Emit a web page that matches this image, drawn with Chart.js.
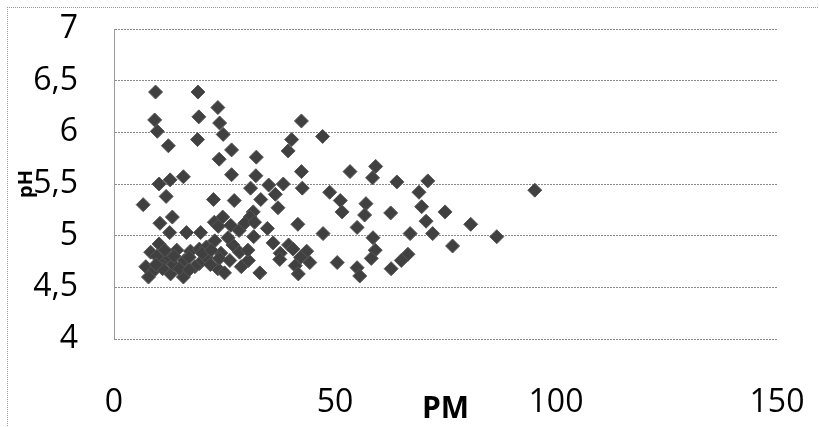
<!DOCTYPE html>
<html>
<head>
<meta charset="utf-8">
<script src="https://cdn.jsdelivr.net/npm/chart.js@4.4.1/dist/chart.umd.min.js"></script>
<style>
  html, body { margin: 0; padding: 0; background: #fff; overflow: hidden; }
  #wrap { position: relative; width: 819px; height: 427px; }
  #frame { position: absolute; left: 7px; top: 7px; width: 840px; height: 440px;
           border-top: 1px dotted #9a9a9a; border-left: 1px dotted #9a9a9a; pointer-events: none; }
  canvas { position: absolute; left: 0; top: 0; }
</style>
</head>
<body>
<div id="wrap">
  <canvas id="c" width="819" height="427"></canvas>
  <div id="frame"></div>
</div>
<script>
// Series values
const pmValues = [
  9.4, 19.0, 23.5, 9.2, 19.2, 9.8, 23.9, 24.7, 12.3, 18.9, 26.6, 23.8, 32.2, 26.6, 15.7, 12.7, 10.2, 32.1,
  42.4, 40.2, 39.4, 47.2, 42.4, 53.4, 59.2, 58.5,
  30.9, 35.0, 38.3, 42.6, 64.0, 71.0, 69.0, 95.2, 48.8, 51.2, 51.6, 57.0, 56.7, 62.6, 69.6, 74.9, 70.6,
  80.7, 72.1, 86.6, 76.6, 67.0, 66.5, 65.0, 62.7, 55.0, 58.6, 59.1, 58.2, 50.5, 55.0, 55.6,
  6.6, 11.8, 22.5, 27.2, 33.2, 36.5, 37.1, 31.5, 30.8, 13.2, 10.4, 12.6, 16.4, 19.6, 22.7, 24.6, 23.6,
  26.4, 28.3, 29.6, 31.8, 34.7, 41.6, 47.3, 31.6,
  36.0, 39.5, 40.5, 37.6, 43.6, 37.5, 42.2, 44.3, 41.0, 41.7, 33.0,
  10.2, 8.3, 7.2, 9.0, 7.8, 10.7, 12.2, 14.2, 12.8, 15.7, 15.9, 13.4, 17.3, 17.0, 19.3, 19.3, 20.9,
  20.9, 22.8, 23.5, 24.2, 23.8, 26.2, 26.9, 25.0, 28.4, 28.8, 25.8, 11.0, 9.7, 18.3, 30.4, 30.3,
  11.5, 14.8, 17.0, 21.8, 13.6, 20.0, 22.0, 9.5
];
const phValues = [
  6.39, 6.39, 6.24, 6.12, 6.15, 6.01, 6.09, 5.98, 5.87, 5.93, 5.83, 5.74, 5.76, 5.59, 5.57, 5.54, 5.50, 5.58,
  6.11, 5.93, 5.82, 5.96, 5.62, 5.62, 5.67, 5.56,
  5.46, 5.49, 5.50, 5.46, 5.52, 5.53, 5.42, 5.44, 5.42, 5.34, 5.23, 5.31, 5.20, 5.22, 5.28, 5.23, 5.14,
  5.11, 5.02, 4.99, 4.90, 5.02, 4.82, 4.76, 4.68, 5.08, 4.98, 4.86, 4.78, 4.74, 4.69, 4.61,
  5.30, 5.38, 5.35, 5.34, 5.35, 5.40, 5.27, 5.23, 5.18, 5.18, 5.12, 5.03, 5.03, 5.03, 5.13, 5.18, 5.09,
  5.10, 5.05, 5.12, 5.13, 5.07, 5.11, 5.02, 4.99,
  4.93, 4.91, 4.87, 4.83, 4.85, 4.77, 4.79, 4.74, 4.71, 4.63, 4.64,
  4.92, 4.84, 4.70, 4.66, 4.60, 4.74, 4.80, 4.86, 4.63, 4.60, 4.76, 4.72, 4.85, 4.79, 4.73, 4.87, 4.89,
  4.79, 4.95, 4.68, 4.83, 4.78, 4.76, 4.91, 4.64, 4.84, 4.70, 4.98, 4.68, 4.80, 4.70, 4.76, 4.86,
  4.86, 4.68, 4.67, 4.72, 4.80, 4.83, 4.86, 4.72
];
const xTickLabels = ['0', '50', '100', '150'];
const yTickLabels = ['4', '4,5', '5', '5,5', '6', '6,5', '7'];
const xTitle = 'PM';
const yTitle = 'pH';

const points = pmValues.map((x, i) => ({ x: x, y: phValues[i] }));

new Chart(document.getElementById('c'), {
  type: 'scatter',
  data: {
    datasets: [{
      label: 'pH',
      data: points,
      pointStyle: 'rectRot',
      pointRadius: 7,
      pointHoverRadius: 7,
      backgroundColor: '#404040',
      borderColor: '#555555',
      borderWidth: 1
    }]
  },
  options: {
    responsive: false,
    animation: false,
    layout: { padding: { left: 8, right: 42, top: 29, bottom: 0 } },
    plugins: { legend: { display: false }, tooltip: { enabled: false } },
    scales: {
      x: {
        type: 'linear',
        min: 0, max: 150,
        afterFit: s => { s.height = 88; s.paddingLeft = 0; s.paddingRight = 0; },
        grid: { display: false, drawTicks: false, tickLength: 0 },
        border: { display: false },
        ticks: {
          stepSize: 50,
          padding: 45,
          color: '#000',
          font: { family: 'Open Sans', size: 32 },
          callback: (v, i) => xTickLabels[i]
        },
        title: {
          display: true, text: xTitle, color: '#000',
          font: { family: 'Open Sans', size: 30, weight: 'bold' },
          padding: { top: 0, bottom: 0 }
        }
      },
      y: {
        type: 'linear',
        min: 4, max: 7,
        afterFit: s => { s.width = 106; s.paddingTop = 0; s.paddingBottom = 0; },
        grid: { color: '#8a8a8a', lineWidth: 1, drawTicks: false, tickLength: 0 },
        border: { display: true, color: '#9a9a9a', width: 1, dash: [2, 1] },
        ticks: {
          stepSize: 0.5,
          padding: 36,
          color: '#000',
          font: { family: 'Open Sans', size: 32 },
          callback: (v, i) => yTickLabels[i]
        },
        title: {
          display: true, text: yTitle, color: '#000',
          font: { family: 'Open Sans', size: 20, weight: 'bold' },
          padding: { top: 6, bottom: 0 }
        }
      }
    }
  }
});
</script>
</body>
</html>
